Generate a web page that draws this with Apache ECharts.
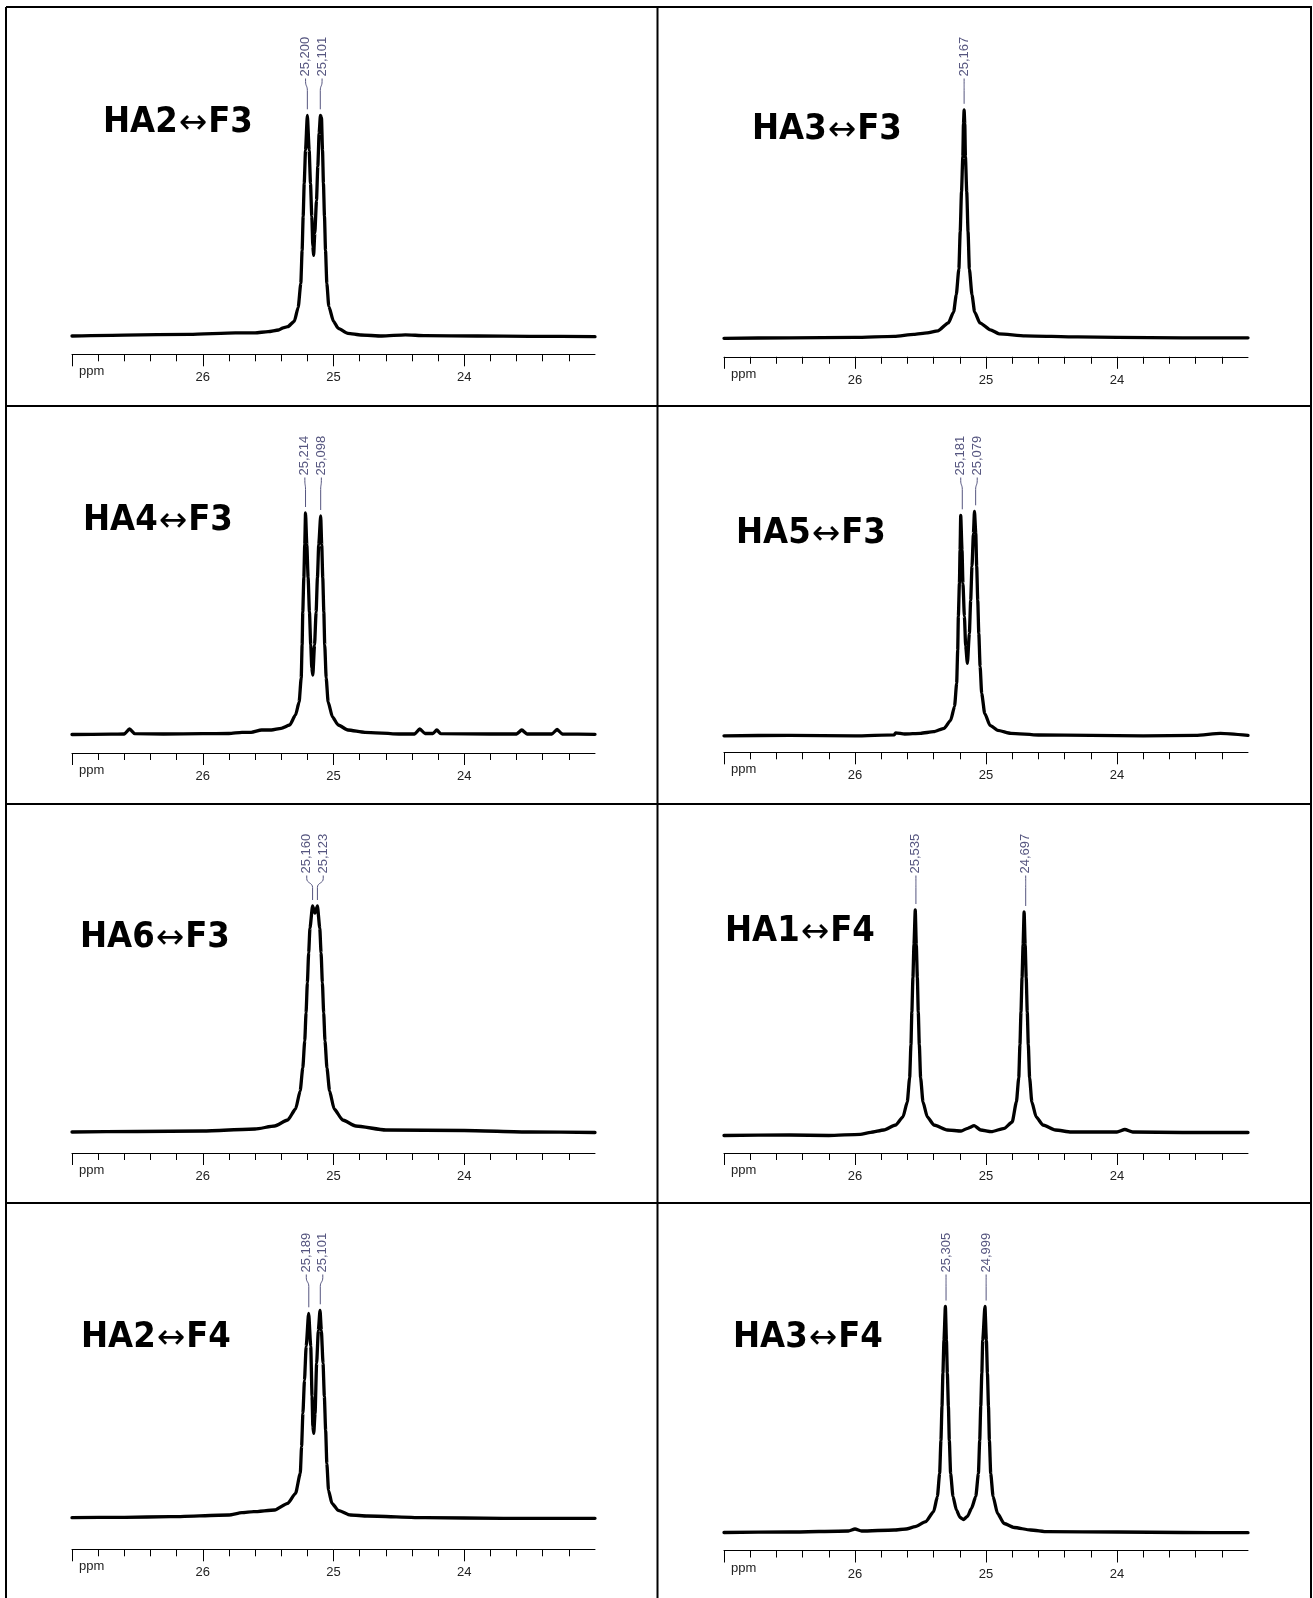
<!DOCTYPE html>
<html>
<head>
<meta charset="utf-8">
<script src="https://cdn.jsdelivr.net/npm/echarts@6/dist/echarts.min.js"></script>
<style>
  html, body { margin: 0; padding: 0; background: #fff; }
  #chart { width: 1313px; height: 1598px; }
</style>
</head>
<body>
<div id="chart"></div>
<script>
// ---- data: [ppm, intensity] ----
const titles = ['HA2↔F3', 'HA3↔F3', 'HA4↔F3', 'HA5↔F3', 'HA6↔F3', 'HA1↔F4', 'HA2↔F4', 'HA3↔F4'];
const tickLabels = [26, 25, 24];

const specHA2F3 = [[27.0,18.3],[26.6,19.2],[26.1,20],[25.75,21.5],[25.6,21.5],[25.5,22.6],[25.42,24.3],[25.385,26.5],[25.35,27.6],[25.30,33],[25.27,47],[25.25,71],[25.24,104],[25.232,138],[25.224,171],[25.214,204],[25.20,239],[25.186,204],[25.176,171],[25.166,138],[25.158,108],[25.152,99],[25.143,121],[25.13,154],[25.12,188],[25.11,221],[25.10,239],[25.092,237],[25.084,204],[25.077,171],[25.069,138],[25.061,104],[25.051,71],[25.036,48],[25.0,33],[24.964,26],[24.89,21],[24.79,19.3],[24.63,18.3],[24.45,19.5],[24.3,18.6],[23.9,18.3],[23.5,18],[23.0,17.6]];
const specHA3F3 = [[27.0,18.5],[26.5,19],[26.0,19.5],[25.7,20.5],[25.55,22.5],[25.45,24],[25.367,26],[25.287,34],[25.247,45],[25.227,62],[25.207,88],[25.197,125],[25.187,165],[25.177,200],[25.172,233],[25.167,247],[25.162,233],[25.157,200],[25.147,165],[25.137,125],[25.127,88],[25.107,62],[25.087,45],[25.047,34],[24.967,27],[24.9,23],[24.7,21],[24.3,20],[24.0,19.5],[23.5,19],[23.0,19]];
const specHA4F3 = [[27.0,18.5],[26.7,18.8],[26.6,19],[26.56,24],[26.52,19.3],[26.3,19],[26.0,19.3],[25.8,19.5],[25.7,20.7],[25.63,20.7],[25.55,23],[25.475,23],[25.4,24.7],[25.335,28],[25.29,38],[25.263,51],[25.247,75],[25.24,108],[25.235,141],[25.227,175],[25.22,208],[25.214,240],[25.204,208],[25.194,175],[25.184,141],[25.174,108],[25.166,85],[25.158,78],[25.145,108],[25.133,141],[25.123,175],[25.113,208],[25.098,237],[25.09,208],[25.082,175],[25.074,141],[25.067,108],[25.056,75],[25.041,51],[25.008,36],[24.964,28],[24.89,23],[24.76,20.7],[24.5,19],[24.38,19],[24.34,24],[24.3,19.5],[24.24,19.5],[24.21,23],[24.18,19.3],[23.8,19],[23.6,19],[23.56,23],[23.52,19],[23.33,19],[23.29,23.5],[23.25,19],[23.0,18.7]];
const specHA5F3 = [[27.0,16.5],[26.5,17],[26.0,16.5],[25.7,17.5],[25.69,19.5],[25.62,18.3],[25.5,19],[25.4,20.6],[25.32,24],[25.27,32],[25.24,46],[25.224,69],[25.216,102],[25.211,136],[25.203,169],[25.198,202],[25.193,237],[25.183,202],[25.176,169],[25.165,136],[25.155,106],[25.142,89],[25.127,119],[25.117,152],[25.107,186],[25.096,219],[25.088,241],[25.078,219],[25.071,186],[25.063,152],[25.055,119],[25.045,86],[25.033,59],[25.01,39],[24.97,27],[24.91,22],[24.81,19],[24.6,17.3],[24.2,17],[23.8,16.5],[23.4,17],[23.21,19],[23.0,17]];
const specHA6F3 = [[27.0,21],[26.5,21.5],[26.0,22],[25.6,24],[25.45,27],[25.35,33],[25.29,44],[25.255,62],[25.235,85],[25.22,112],[25.21,140],[25.2,170],[25.19,200],[25.18,225],[25.16,247],[25.142,240],[25.123,247],[25.105,225],[25.095,200],[25.085,170],[25.075,140],[25.065,112],[25.05,85],[25.03,62],[24.995,44],[24.93,33],[24.83,27],[24.6,23],[24.0,22.5],[23.5,21],[23.0,20.5]];
const specHA1F4 = [[27.0,17.5],[26.5,18],[26.2,17.5],[25.96,18.7],[25.88,20.7],[25.78,23],[25.69,28],[25.634,36],[25.601,51],[25.583,75],[25.573,108],[25.566,141],[25.558,175],[25.55,208],[25.54,243],[25.532,208],[25.524,175],[25.517,141],[25.509,108],[25.499,75],[25.481,51],[25.448,36],[25.397,28],[25.295,23],[25.19,22],[25.14,24.7],[25.09,27.3],[25.04,23],[24.96,21.3],[24.86,24.7],[24.8,31],[24.768,51],[24.75,75],[24.741,108],[24.733,141],[24.725,175],[24.717,208],[24.709,241],[24.701,208],[24.693,175],[24.685,141],[24.677,108],[24.667,75],[24.65,51],[24.617,36],[24.565,28],[24.47,23],[24.35,21],[24.0,21],[23.94,23.5],[23.88,21],[23.5,20.5],[23.0,20.5]];
const specHA2F4 = [[27.0,31.6],[26.6,32],[26.25,32.6],[25.8,34.3],[25.7,36.6],[25.61,37.6],[25.45,39.3],[25.35,46],[25.29,56],[25.254,76],[25.244,103],[25.234,136],[25.222,169],[25.209,203],[25.19,236],[25.174,203],[25.164,153],[25.158,123],[25.151,116],[25.141,136],[25.129,186],[25.116,219],[25.103,239],[25.093,219],[25.08,186],[25.07,153],[25.06,119],[25.051,86],[25.038,59],[25.012,46],[24.964,39],[24.87,34.3],[24.74,33.3],[24.3,31.6],[23.7,31],[23.0,31]];
const specHA3F4 = [[27.0,18],[26.5,18.5],[26.05,19.5],[26.0,21.5],[25.95,19.5],[25.7,20.5],[25.61,21.5],[25.54,23.8],[25.46,28.8],[25.4,38.8],[25.371,54],[25.354,77],[25.344,110],[25.336,144],[25.329,177],[25.321,210],[25.31,244],[25.302,210],[25.295,177],[25.287,144],[25.28,110],[25.27,77],[25.252,54],[25.226,40.5],[25.198,33],[25.172,31],[25.142,34],[25.111,42],[25.078,54],[25.058,77],[25.048,110],[25.04,144],[25.032,177],[25.025,210],[25.008,244],[24.997,210],[24.989,177],[24.981,144],[24.974,110],[24.964,77],[24.946,54],[24.912,37],[24.862,27],[24.785,23],[24.66,20.5],[24.53,18.8],[24.0,18.5],[23.5,18],[23.0,17.8]];

// picked peaks (ppm)
const peaksHA2F3 = [25.200, 25.101];
const peaksHA3F3 = [25.167];
const peaksHA4F3 = [25.214, 25.098];
const peaksHA5F3 = [25.181, 25.079];
const peaksHA6F3 = [25.160, 25.123];
const peaksHA1F4 = [25.535, 24.697];
const peaksHA2F4 = [25.189, 25.101];
const peaksHA3F4 = [25.305, 24.999];

const spectra = [specHA2F3, specHA3F3, specHA4F3, specHA5F3, specHA6F3, specHA1F4, specHA2F4, specHA3F4];
const peakLists = [peaksHA2F3, peaksHA3F3, peaksHA4F3, peaksHA5F3, peaksHA6F3, peaksHA1F4, peaksHA2F4, peaksHA3F4];

// ---- layout (pixels) ----
const colLeft = [72, 724];
const plotW = 523;
const plotH = 300;
const panelTop = [7, 7, 406, 406, 804, 804, 1203, 1203];
const axisY = [354.3, 356.8, 753, 752.3, 1153, 1153, 1549.3, 1550.5];
const titlePos = [[103, 123], [752, 130], [83, 521], [736, 534], [80, 938], [725, 932], [81, 1338], [733, 1338]];
const labelColor = '#55557f';

const chart = echarts.init(document.getElementById('chart'), null, { renderer: 'canvas' });

function peakHeight(spec, ppm) {
  let best = 0;
  spec.forEach(p => { if (Math.abs(p[0] - ppm) < 0.025 && p[1] > best) best = p[1]; });
  return best;
}

function labelRenderer(i) {
  return function (params, api) {
    const pk = peakLists[i];
    const pts = pk.map(p => api.coord([p, peakHeight(spectra[i], p)]));
    let xs = pts.map(p => p[0]);
    if (xs.length === 2 && Math.abs(xs[1] - xs[0]) < 16.5) {
      const m = (xs[0] + xs[1]) / 2;
      const s = xs[0] < xs[1] ? -1 : 1;
      xs = [m + s * 8.25, m - s * 8.25];
    }
    const k = params.dataIndex;
    const px = pts[k][0], py = pts[k][1];
    const lx = xs[k];
    const yb = panelTop[i] + 69.5;
    const ls = { stroke: labelColor, lineWidth: 1, fill: null };
    return {
      type: 'group',
      children: [
        { type: 'text', x: lx, y: yb, rotation: Math.PI / 2,
          style: { text: pk[k].toFixed(3).replace('.', ','), fill: labelColor,
            font: '13px "Liberation Sans", Arial, sans-serif', align: 'left', verticalAlign: 'middle' } },
        { type: 'line', shape: { x1: lx, y1: yb + 2, x2: lx, y2: yb + 5 }, style: ls },
        { type: 'bezierCurve', shape: { x1: lx, y1: yb + 5, cpx1: lx, cpy1: yb + 10, cpx2: px, cpy2: yb + 9, x2: px, y2: yb + 14 }, style: ls },
        { type: 'line', shape: { x1: px, y1: yb + 14, x2: px, y2: py - 6 }, style: ls }
      ]
    };
  };
}

const grid = [], xAxis = [], yAxis = [], series = [], graphic = [];

spectra.forEach((spec, i) => {
  const col = i % 2;
  grid.push({ left: colLeft[col], top: axisY[i] - plotH, width: plotW + col, height: plotH });
  xAxis.push({
    gridIndex: i, type: 'value', min: 23, max: 27, interval: 1, inverse: true,
    splitLine: { show: false },
    axisLine: { onZero: false, lineStyle: { color: '#000', width: 1 } },
    axisTick: { length: 12, customValues: [24, 25, 26, 27], lineStyle: { color: '#000', width: 1 } },
    minorTick: { show: true, splitNumber: 5, length: 7, lineStyle: { color: '#000', width: 1 } },
    axisLabel: { customValues: tickLabels, margin: 17, fontSize: 13, color: '#222',
      fontFamily: '"Liberation Sans", Arial, sans-serif' }
  });
  yAxis.push({ gridIndex: i, type: 'value', min: 0, max: plotH, show: false });
  series.push({
    type: 'line', xAxisIndex: i, yAxisIndex: i, data: spec, showSymbol: false, symbol: 'none',
    smooth: 0.2, smoothMonotone: 'x',
    lineStyle: { color: '#000', width: 3.3, join: 'round', cap: 'round' }, silent: true
  });
  series.push({
    type: 'custom', xAxisIndex: i, yAxisIndex: i, coordinateSystem: 'cartesian2d',
    data: peakLists[i].map(p => [p, peakHeight(spec, p)]), renderItem: labelRenderer(i), silent: true
  });
  // panel title
  graphic.push({
    type: 'text', x: titlePos[i][0], y: titlePos[i][1],
    style: {
      text: titles[i].replace('↔', '{a|↔}'),
      font: 'bold 36px "DejaVu Sans Condensed", "Liberation Sans", Arial, sans-serif', fill: '#000',
      align: 'left', verticalAlign: 'middle',
      rich: { a: { fontSize: 34, fontWeight: 'normal', fontFamily: '"DejaVu Sans", sans-serif', padding: [3, 1, 0, 1] } }
    }
  });
  // ppm label at the start of the scale
  graphic.push({
    type: 'text', x: colLeft[col] + 7, y: axisY[i] + 17.5,
    style: { text: 'ppm', font: '13px "Liberation Sans", Arial, sans-serif', fill: '#222', align: 'left', verticalAlign: 'middle' }
  });
});

// table frame
const frame = { stroke: '#000', lineWidth: 2 };
[[6, 7, 1312, 7], [6, 406, 1312, 406], [6, 804, 1312, 804], [6, 1203, 1312, 1203],
 [6, 7, 6, 1598], [657.5, 7, 657.5, 1598], [1311, 7, 1311, 1598]].forEach(l => {
  graphic.push({ type: 'line', shape: { x1: l[0], y1: l[1], x2: l[2], y2: l[3] }, style: frame, silent: true });
});

chart.setOption({ animation: false, backgroundColor: '#fff', grid, xAxis, yAxis, series, graphic });
</script>
</body>
</html>
